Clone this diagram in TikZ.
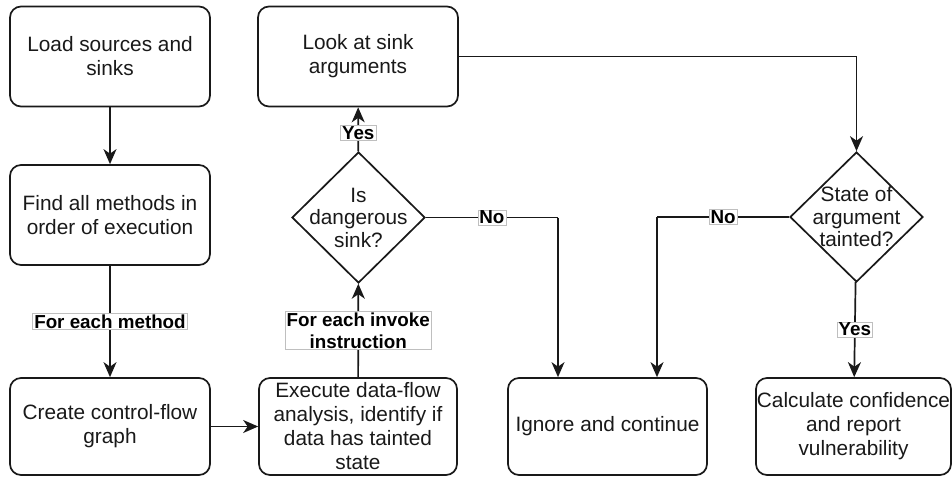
\documentclass[tikz,border=0pt]{standalone}
\usepackage{fontspec}
\setmainfont{Liberation Sans}
\usetikzlibrary{shapes.geometric,arrows.meta}

\tikzset{
  x=1pt, y=-1pt,
  flowline/.style={line width=1.7pt, draw=black!90},
  flowarrow/.style={flowline, -{Stealth[length=15pt,width=13pt,inset=4.5pt]}},
  stepbox/.style={draw=black!90, line width=1.7pt, rounded corners=11pt,
    inner sep=0pt, align=center, text=black!90, font=\fontsize{20.8}{24}\selectfont},
  decision/.style={draw=black!90, line width=1.7pt, diamond, inner sep=0pt},
  decisiontext/.style={align=center, text=black!90, font=\fontsize{20.8}{22.5}\selectfont},
  edgelabel/.style={fill=white, draw=black!25, line width=0.7pt, inner xsep=1.5pt,
    inner ysep=1pt, align=center, font=\bfseries\fontsize{18.8}{22}\selectfont}
}

\begin{document}
\begin{tikzpicture}
  \useasboundingbox (0,0) rectangle (952,477);

  % process steps
  \node[stepbox, minimum width=200pt, minimum height=100pt] (load)   at (110,56.5)  {Load sources and\\sinks};
  \node[stepbox, minimum width=200pt, minimum height=100pt] (find)   at (110,215)   {Find all methods in\\order of execution};
  \node[stepbox, minimum width=200pt, minimum height=97pt]  (cfg)    at (110,426.5) {Create control-flow\\graph};
  \node[stepbox, minimum width=198pt, minimum height=97pt]  (dfa)    at (358,426.5) {Execute data-flow\\analysis, identify if\\data has tainted\\state};
  \node[stepbox, minimum width=200pt, minimum height=100pt] (args)   at (358,56.5)  {Look at sink\\arguments};
  \node[stepbox, minimum width=199pt, minimum height=97pt]  (ignore) at (607.5,426.5) {Ignore and continue};
  \node[stepbox, minimum width=195pt, minimum height=97pt]  (report) at (853.5,426.5) {Calculate confidence\\and report\\vulnerability};

  % decisions
  \node[decision, minimum width=133pt, minimum height=131pt] (sink) at (358.5,217.5) {};
  \node[decisiontext] at (sink) {Is\\dangerous\\sink?};
  \node[decision, minimum width=133pt, minimum height=130pt] (taint) at (856.5,217) {};
  \node[decisiontext] at (taint) {State of\\argument\\tainted?};

  % bend points of the elbow connectors
  \coordinate (sinkNo)  at (558,217.5);
  \coordinate (taintNo) at (657,217);
  \coordinate (argsTurn) at (856.5,56.5);

  % connectors
  \draw[flowarrow] (load) -- (find);
  \draw[flowarrow] (find) -- node[edgelabel] {For each method} (cfg);
  \draw[flowarrow] (cfg) -- (dfa);
  \draw[flowarrow] (dfa) -- node[edgelabel] {For each invoke\\instruction} (sink);
  \draw[flowarrow] (sink) -- node[edgelabel, pos=0.42] {Yes} (args);
  \draw[flowarrow] (args) -- (argsTurn) -- (taint);
  \draw[flowline] (sink.east) -- node[edgelabel] {No} (sinkNo);
  \draw[flowarrow] (sinkNo) -- (sinkNo |- ignore.north);
  \draw[flowline] (taint.west) -- node[edgelabel] {No} (taintNo);
  \draw[flowarrow] (taintNo) -- (taintNo |- ignore.north);
  \draw[flowarrow] (taint) -- node[edgelabel] {Yes} (report);
\end{tikzpicture}
\end{document}
